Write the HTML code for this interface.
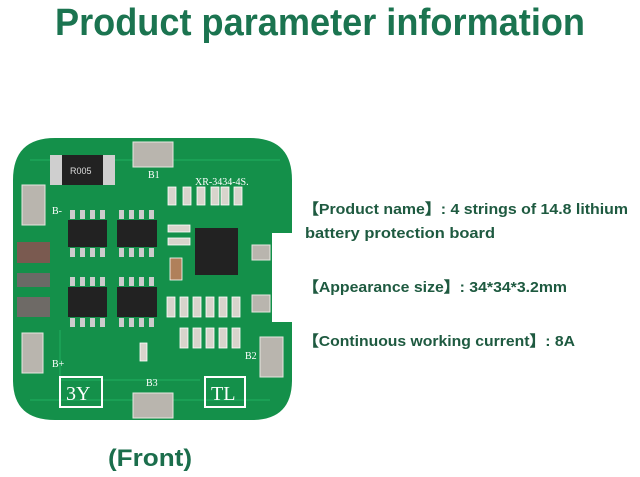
<!DOCTYPE html>
<html><head><meta charset="utf-8"><style>
html,body{margin:0;padding:0;background:#fff;}
svg{display:block}
</style></head><body>
<svg width="640" height="477" viewBox="0 0 640 477" xmlns="http://www.w3.org/2000/svg">
<rect width="640" height="477" fill="#fff"/>
<text x="55" y="35" font-family="Liberation Sans, sans-serif" font-weight="bold" font-size="38" fill="#1b7450" textLength="530" lengthAdjust="spacingAndGlyphs">Product parameter information</text>

<!-- board -->
<path d="M55,138 H250 Q292,138 292,180 V233 H272 V322 H292 V380 Q292,420 252,420 H55 Q13,420 13,380 V180 Q13,138 55,138 Z" fill="#14904a"/>
<path d="M30,160 H280 M30,400 H270 M60,330 V380 H200" stroke="#1aa055" stroke-width="2" fill="none"/>
<!-- pads -->
<g fill="#b9b5ae" stroke="#e6e6e0" stroke-width="1">
<rect x="133" y="142" width="40" height="25"/>
<rect x="22" y="185" width="23" height="40"/>
<rect x="22" y="333" width="21" height="40"/>
<rect x="260" y="337" width="23" height="40"/>
<rect x="133" y="393" width="40" height="25"/>
<rect x="252" y="245" width="18" height="15"/>
<rect x="252" y="295" width="18" height="17"/>
</g>
<!-- resistor -->
<rect x="50" y="155" width="65" height="30" fill="#cfcfcf"/>
<rect x="62" y="155" width="41" height="30" fill="#222"/>
<text x="70" y="174" font-family="Liberation Sans, sans-serif" font-size="9" fill="#ddd">R005</text>
<!-- left connectors -->
<rect x="17" y="242" width="33" height="21" fill="#7a5a50"/>
<rect x="17" y="273" width="33" height="14" fill="#6a6a66"/>
<rect x="17" y="297" width="33" height="20" fill="#6e6a66"/>
<!-- chips -->
<g fill="#222">
<rect x="68" y="220" width="39" height="27"/>
<rect x="117" y="220" width="40" height="27"/>
<rect x="68" y="287" width="39" height="30"/>
<rect x="117" y="287" width="40" height="30"/>
<rect x="195" y="228" width="43" height="47"/>
</g>
<g fill="#ccc">
<rect x="70" y="210" width="5" height="9"/><rect x="80" y="210" width="5" height="9"/><rect x="90" y="210" width="5" height="9"/><rect x="100" y="210" width="5" height="9"/>
<rect x="119" y="210" width="5" height="9"/><rect x="129" y="210" width="5" height="9"/><rect x="139" y="210" width="5" height="9"/><rect x="149" y="210" width="5" height="9"/>
<rect x="70" y="248" width="5" height="9"/><rect x="80" y="248" width="5" height="9"/><rect x="90" y="248" width="5" height="9"/><rect x="100" y="248" width="5" height="9"/>
<rect x="119" y="248" width="5" height="9"/><rect x="129" y="248" width="5" height="9"/><rect x="139" y="248" width="5" height="9"/><rect x="149" y="248" width="5" height="9"/>
<rect x="70" y="277" width="5" height="9"/><rect x="80" y="277" width="5" height="9"/><rect x="90" y="277" width="5" height="9"/><rect x="100" y="277" width="5" height="9"/>
<rect x="119" y="277" width="5" height="9"/><rect x="129" y="277" width="5" height="9"/><rect x="139" y="277" width="5" height="9"/><rect x="149" y="277" width="5" height="9"/>
<rect x="70" y="318" width="5" height="9"/><rect x="80" y="318" width="5" height="9"/><rect x="90" y="318" width="5" height="9"/><rect x="100" y="318" width="5" height="9"/>
<rect x="119" y="318" width="5" height="9"/><rect x="129" y="318" width="5" height="9"/><rect x="139" y="318" width="5" height="9"/><rect x="149" y="318" width="5" height="9"/>
</g>
<!-- small components -->
<g fill="#d8d4cc" stroke="#fff" stroke-width="0.8">
<rect x="168" y="187" width="8" height="18"/><rect x="183" y="187" width="8" height="18"/><rect x="197" y="187" width="8" height="18"/><rect x="211" y="187" width="8" height="18"/><rect x="221" y="187" width="8" height="18"/><rect x="234" y="187" width="8" height="18"/>
<rect x="168" y="225" width="22" height="7"/><rect x="168" y="238" width="22" height="7"/>
<rect x="170" y="258" width="12" height="22" fill="#b0805a"/>
<rect x="167" y="297" width="8" height="20"/><rect x="180" y="297" width="8" height="20"/><rect x="193" y="297" width="8" height="20"/><rect x="206" y="297" width="8" height="20"/><rect x="219" y="297" width="8" height="20"/><rect x="232" y="297" width="8" height="20"/>
<rect x="180" y="328" width="8" height="20"/><rect x="193" y="328" width="8" height="20"/><rect x="206" y="328" width="8" height="20"/><rect x="219" y="328" width="8" height="20"/><rect x="232" y="328" width="8" height="20"/>
<rect x="140" y="343" width="7" height="18"/>
</g>
<g font-family="Liberation Serif, serif" fill="#fff" font-size="10">
<text x="195" y="185">XR-3434-4S.</text>
<text x="148" y="178">B1</text>
<text x="52" y="214">B-</text>
<text x="52" y="367">B+</text>
<text x="146" y="386">B3</text>
<text x="245" y="359">B2</text>
</g>
<rect x="60" y="377" width="42" height="30" fill="none" stroke="#fff" stroke-width="2"/>
<text x="66" y="400" font-family="Liberation Serif, serif" font-size="20" fill="#fff">3Y</text>
<rect x="205" y="377" width="40" height="30" fill="none" stroke="#fff" stroke-width="2"/>
<text x="211" y="400" font-family="Liberation Serif, serif" font-size="20" fill="#fff">TL</text>

<g font-family="Liberation Sans, sans-serif" font-weight="bold" font-size="15" fill="#1e5a40">
<text x="303" y="214" textLength="325" lengthAdjust="spacingAndGlyphs">【Product name】: 4 strings of 14.8 lithium</text>
<text x="305" y="238" textLength="190" lengthAdjust="spacingAndGlyphs">battery protection board</text>
<text x="303" y="292" textLength="264" lengthAdjust="spacingAndGlyphs">【Appearance size】: 34*34*3.2mm</text>
<text x="303" y="346" textLength="272" lengthAdjust="spacingAndGlyphs">【Continuous working current】: 8A</text>
</g>
<text x="108" y="466" font-family="Liberation Sans, sans-serif" font-weight="bold" font-size="24" fill="#1b6e4c" textLength="84" lengthAdjust="spacingAndGlyphs">(Front)</text>
</svg>
</body></html>
